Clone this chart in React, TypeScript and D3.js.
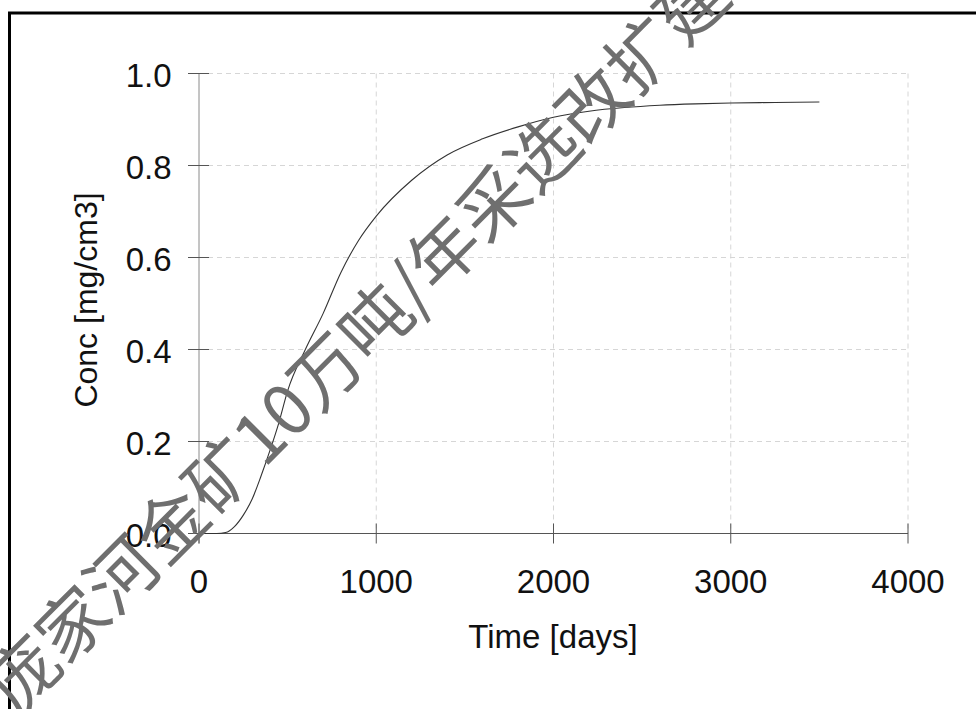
import React from 'react';
import * as d3 from 'd3';

// breakthrough curve
const timeDays = [0, 100, 150, 200, 250, 300, 350, 400, 450, 500, 600, 700, 800, 900, 1000, 1200, 1400, 1600, 1800, 2000, 2200, 2400, 2600, 2800, 3000, 3250, 3500];
const concValues = [0, 0, 0.002, 0.015, 0.04, 0.075, 0.125, 0.18, 0.24, 0.31, 0.4, 0.478, 0.567, 0.637, 0.69, 0.768, 0.823, 0.858, 0.884, 0.905, 0.918, 0.926, 0.931, 0.934, 0.936, 0.937, 0.938];

const xTicks = [0, 1000, 2000, 3000, 4000];
const yTicks = [0, 0.2, 0.4, 0.6, 0.8, 1.0];

const xLabel = 'Time [days]';
const yLabel = 'Conc [mg/cm3]';
const watermark = '庞家河金矿10万吨/年采选改扩建';

const WIDTH = 976;
const HEIGHT = 709;
const FONT = '"Liberation Sans", Arial, sans-serif';

function App() {
  const x = d3.scaleLinear().domain([0, 4000]).range([199, 908]);
  const y = d3.scaleLinear().domain([0, 1]).range([533.5, 73.5]);

  const points = timeDays.map((t, i) => [t, concValues[i]] as [number, number]);
  const line = d3.line<[number, number]>()
    .x(d => x(d[0]))
    .y(d => y(d[1]))
    .curve(d3.curveMonotoneX);

  return (
    <svg
      width={WIDTH}
      height={HEIGHT}
      style={{ position: 'absolute', left: 0, top: 0, background: '#fff' }}
      fontFamily={FONT}
    >
      {/* outer frame (only left and top visible) */}
      <path d={`M9.5,${HEIGHT} V13 H${WIDTH}`} fill="none" stroke="#000" strokeWidth={3} />

      {/* grid */}
      <g stroke="#d6d6d6" strokeWidth={1} strokeDasharray="5,4">
        {yTicks.filter(v => v > 0).map(v => (
          <line key={'gy' + v} x1={x(0)} x2={x(4000)} y1={y(v)} y2={y(v)} />
        ))}
        {xTicks.filter(v => v > 0).map(v => (
          <line key={'gx' + v} x1={x(v)} x2={x(v)} y1={y(1)} y2={y(0)} />
        ))}
      </g>

      {/* y axis */}
      <line x1={x(0)} x2={x(0)} y1={y(1)} y2={y(0) + 10} stroke="#8a8a8a" strokeWidth={1} />
      {yTicks.map(v => (
        <g key={'yt' + v}>
          <line x1={x(0) - 11} x2={x(0) + 10} y1={y(v)} y2={y(v)} stroke="#555" strokeWidth={1} />
          <text x={171.5} y={y(v) + 13} textAnchor="end" fontSize={33} fill="#111">
            {d3.format('.1f')(v)}
          </text>
        </g>
      ))}

      {/* x axis */}
      <line x1={x(0) - 11} x2={x(4000)} y1={y(0)} y2={y(0)} stroke="#555" strokeWidth={1} />
      {xTicks.map(v => (
        <g key={'xt' + v}>
          <line x1={x(v)} x2={x(v)} y1={y(0) - 10} y2={y(0) + 10} stroke="#555" strokeWidth={1} />
          <text x={x(v)} y={592.5} textAnchor="middle" fontSize={33} fill="#111">
            {v}
          </text>
        </g>
      ))}

      {/* axis titles */}
      <text x={553} y={648} textAnchor="middle" fontSize={33} fill="#111">{xLabel}</text>
      <text transform={`translate(97,300) rotate(-90)`} textAnchor="middle" fontSize={32} fill="#111">
        {yLabel}
      </text>

      {/* concentration curve */}
      <path d={line(points) || ''} fill="none" stroke="#333" strokeWidth={1.1} />

      {/* watermark */}
      <text
        transform="translate(-5,695) rotate(-45)"
        dominantBaseline="central"
        fontFamily='"Noto Sans CJK SC", sans-serif'
        fontSize={70}
        fill="#6f6f6f"
      >
        {watermark}
      </text>
    </svg>
  );
}

export default App;
